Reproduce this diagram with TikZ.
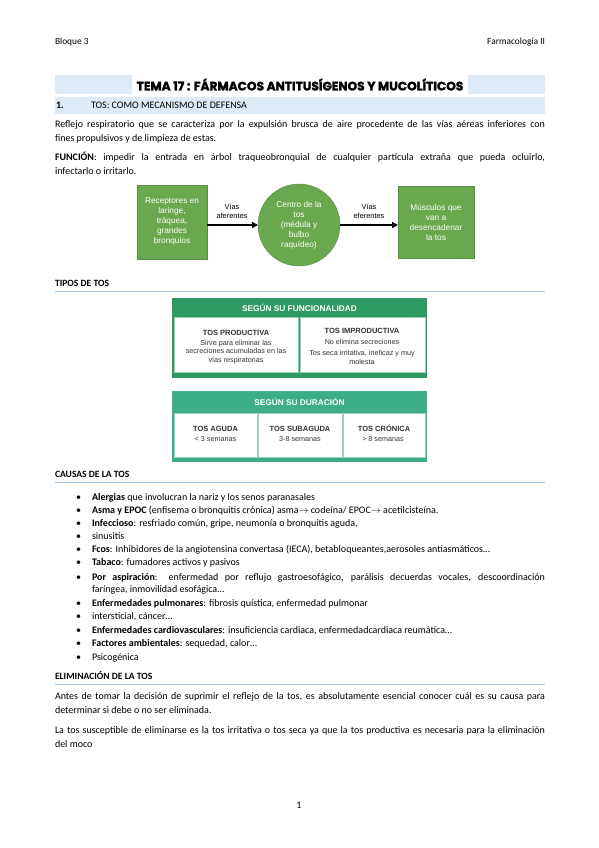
\documentclass[tikz,border=0pt]{standalone}
\usepackage{fontspec}
\setmainfont{Carlito}
\newfontfamily\arialf{Liberation Sans}
\newfontfamily\titlef{Poppins}[BoldFeatures={FakeBold=2}]
\usetikzlibrary{arrows.meta}

\definecolor{bandblue}{HTML}{DEEAF6}
\definecolor{ruleblue}{HTML}{A9CBEA}
\definecolor{flowgreen}{HTML}{6AA84F}
\definecolor{tabgreen}{HTML}{2E9963}
\definecolor{tabteal}{HTML}{3DAD88}
\definecolor{cellline}{HTML}{9AD1B6}
\definecolor{celltext}{HTML}{333333}

\newcommand\fullline[2]{\makebox[#1][s]{#2}}

\begin{document}
\begin{tikzpicture}[x=1pt, y=-1pt,
    every node/.style={inner sep=0pt, outer sep=0pt},
    body/.style={font=\fontsize{10}{12}\selectfont, anchor=base west},
    heading/.style={font=\fontsize{9.6}{11}\selectfont\bfseries, anchor=base west},
    flowbox/.style={fill=flowgreen, draw=flowgreen!85!black, text=white, align=center,
        font=\arialf\fontsize{8.3}{10}\selectfont},
    flowlabel/.style={align=center, font=\arialf\fontsize{7.4}{9}\selectfont},
    cell/.style={fill=white, draw=cellline, line width=0.8pt},
    celltitle/.style={text=celltext, font=\arialf\bfseries\fontsize{7.5}{8}\selectfont},
    celltxt/.style={text=celltext, align=center, font=\arialf\fontsize{7.2}{8.6}\selectfont},
    tabhead/.style={text=white, font=\arialf\bfseries\fontsize{8.3}{9}\selectfont}
  ]
   \useasboundingbox[fill=white] (0,0) rectangle (599,848);

   % cabecera de pagina
   \node[body, font=\fontsize{9.4}{11}\selectfont] (bloque) at (55,45) {Bloque 3};
   \node[body, font=\fontsize{9.4}{11}\selectfont, anchor=base east] (asig) at (545,45) {Farmacología II};

   % titulo
   \fill[bandblue] (55,75) rectangle (545,94);
   \node[fill=white, minimum height=19pt, inner xsep=5pt, font=\titlef\bfseries\fontsize{12.2}{13}\selectfont]
       (titulo) at (300,84.5) {TEMA 17 : FÁRMACOS ANTITUSÍGENOS Y MUCOLÍTICOS};

   \fill[bandblue] (55,97) rectangle (545,114);
   \node[body, font=\fontsize{10}{11}\selectfont\bfseries] (num) at (56,109) {1.};
   \node[body, font=\fontsize{10}{11}\selectfont] (sec) at (91,109) {TOS: COMO MECANISMO DE DEFENSA};

   \node[body] (p1a) at (55,128) {\fullline{490pt}{Reflejo respiratorio que se caracteriza por la expulsión brusca de aire procedente de las vías aéreas inferiores con}};
   \node[body] (p1b) at (55,142) {fines propulsivos y de limpieza de estas.};
   \node[body] (p2a) at (55,160) {\fullline{490pt}{\textbf{FUNCIÓN}: impedir la entrada en árbol traqueobronquial de cualquier partícula extraña que pueda ocluirlo,}};
   \node[body] (p2b) at (55,174) {infectarlo o irritarlo.};

   % esquema del reflejo
   \node[flowbox, minimum width=70pt, minimum height=74pt] (recep) at (172,222)
       {Receptores en\\laringe,\\tráquea,\\grandes\\bronquios};
   \node[flowbox, circle, minimum size=82pt] (centro) at (299,225)
       {Centro de la\\tos\\(médula y\\bulbo\\raquídeo)};
   \node[flowbox, minimum width=76pt, minimum height=72pt] (musc) at (436,222)
       {Músculos que\\van a\\desencadenar\\la tos};
   \draw[-{Triangle[length=6pt,width=6pt]}, line width=1.6pt] (recep.east |- centro.west) -- (centro.west);
   \draw[-{Triangle[length=6pt,width=6pt]}, line width=1.6pt] (centro.east) -- (musc.west |- centro.east);
   \node[flowlabel] (afer) at (232,211) {Vías\\aferentes};
   \node[flowlabel] (efer) at (369,211) {Vías\\eferentes};

   % tipos de tos
   \node[heading] (tipos) at (55,286) {TIPOS DE TOS};
   \draw[ruleblue, line width=0.9pt] (55,291) -- (545,291);

   \fill[tabgreen] (172,298) rectangle (427,378);
   \draw[cell] (174,317) rectangle (298.5,372);
   \draw[cell] (300,317) rectangle (425,372);
   \node[tabhead] (funcion) at (299.5,308) {SEGÚN SU FUNCIONALIDAD};
   \node[celltitle] (prod) at (236,333) {TOS PRODUCTIVA};
   \node[celltxt] (prodtxt) at (236,352) {Sirve para eliminar las\\secreciones acumuladas en las\\vías respiratorias};
   \node[celltitle] (improd) at (362,331) {TOS IMPRODUCTIVA};
   \node[celltxt] (improdtxt) at (362,341.5) {No elimina secreciones};
   \node[celltxt] (improdtxt2) at (362,357.5) {Tos seca irritativa, ineficaz y muy\\molesta};

   \fill[tabteal] (172,391) rectangle (427,462);
   \node[tabhead] (duracion) at (299.5,402) {SEGÚN SU DURACIÓN};
   \foreach \xa/\xb/\titulo/\tiempo [count=\i] in {
       174/257/{TOS AGUDA}/{< 3 semanas},
       258/342/{TOS SUBAGUDA}/{3-8 semanas},
       343/425/{TOS CRÓNICA}/{> 8 semanas}
   }{
       \draw[cell] (\xa,413) rectangle (\xb,457);
       \node[celltitle] (dur\i) at ({(\xa+\xb)/2},428.5) {\titulo};
       \node[celltxt] (durtxt\i) at ({(\xa+\xb)/2},439.5) {\tiempo};
   }

   % causas
   \node[heading] (causas) at (55,477) {CAUSAS DE LA TOS};
   \draw[ruleblue, line width=0.9pt] (55,482) -- (545,482);

   \foreach \y/\txt [count=\i] in {
       500/{\textbf{Alergias} que involucran la nariz y los senos paranasales},
       513/{\textbf{Asma y EPOC} (enfisema o bronquitis crónica) asma$\rightarrow$ codeína/ EPOC$\rightarrow$ acetilcisteína.},
       526/{\textbf{Infeccioso}: resfriado común, gripe, neumonía o bronquitis aguda,},
       539/{sinusitis},
       552/{\textbf{Fcos}: Inhibidores de la angiotensina convertasa (IECA), betabloqueantes,aerosoles antiasmáticos\ldots},
       565/{\textbf{Tabaco}: fumadores activos y pasivos},
       580/{\fullline{453pt}{\textbf{Por aspiración}: enfermedad por reflujo gastroesofágico, parálisis decuerdas vocales, descoordinación}},
       606/{\textbf{Enfermedades pulmonares}: fibrosis quística, enfermedad pulmonar},
       619/{intersticial, cáncer\ldots},
       633/{\textbf{Enfermedades cardiovasculares}: insuficiencia cardiaca, enfermedadcardiaca reumática\ldots},
       646/{\textbf{Factores ambientales}: sequedad, calor\ldots},
       660/{Psicogénica}
   }{
       \node[body] (dot\i) at (76,\y) {•};
       \node[body] (causa\i) at (92,\y) {\txt};
   }
   \node[body] (causa7b) at (92,592) {faríngea, inmovilidad esofágica\ldots};

   % eliminacion
   \node[heading] (elim) at (55,679) {ELIMINACIÓN DE LA TOS};
   \draw[ruleblue, line width=0.9pt] (55,684) -- (545,684);

   \node[body] (e1a) at (55,699) {\fullline{490pt}{Antes de tomar la decisión de suprimir el reflejo de la tos, es absolutamente esencial conocer cuál es su causa para}};
   \node[body] (e1b) at (55,713) {determinar si debe o no ser eliminada.};
   \node[body] (e2a) at (55,733) {\fullline{490pt}{La tos susceptible de eliminarse es la tos irritativa o tos seca ya que la tos productiva es necesaria para la eliminación}};
   \node[body] (e2b) at (55,747) {del moco};

   \node[body, anchor=base] (pag) at (299,808) {1};
\end{tikzpicture}
\end{document}
